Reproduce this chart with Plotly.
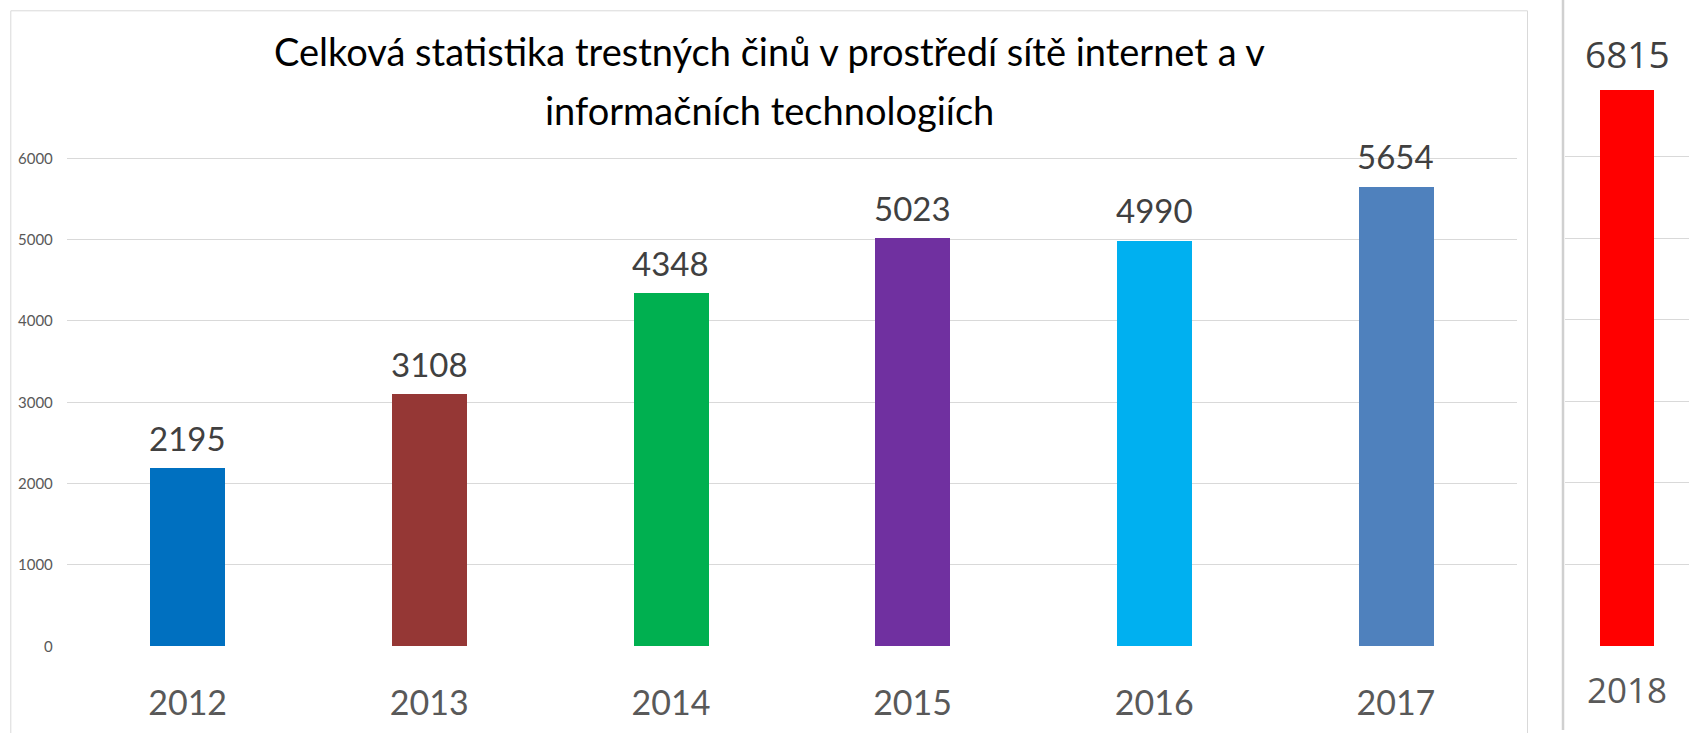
import plotly.graph_objects as go

# ---- data ----
years = ["2012", "2013", "2014", "2015", "2016", "2017"]
counts = [2195, 3108, 4348, 5023, 4990, 5654]
bar_colors = ["#0070C0", "#953735", "#00B050", "#7030A0", "#00B0F0", "#4F81BD"]

years_new = ["2018"]
counts_new = [6815]
colors_new = ["#FF0000"]

title_lines = ["Celková statistika trestných činů v prostředí sítě internet a v",
               "informačních technologiích"]
y_ticks = [0, 1000, 2000, 3000, 4000, 5000, 6000]
y_ticks_new = [0, 1000, 2000, 3000, 4000, 5000, 6000, 7000]

W, H = 1689, 733
MAINF = "Lato, Liberation Sans, sans-serif"
WIDE = "Open Sans, DejaVu Sans, sans-serif"
GRID = "#D9D9D9"


def fx(px):
    return px / W


def fy(py):
    return 1 - py / H


fig = go.Figure()

fig.add_trace(go.Bar(
    x=years, y=counts, marker=dict(color=bar_colors, line=dict(width=0)),
    width=0.31, xaxis="x", yaxis="y", showlegend=False, hoverinfo="x+y",
))
fig.add_trace(go.Bar(
    x=years_new, y=counts_new, marker=dict(color=colors_new, line=dict(width=0)),
    width=0.44, xaxis="x2", yaxis="y2", showlegend=False, hoverinfo="x+y",
))

annotations = []
# category axes: annotation positions use the category index
for i, v in enumerate(counts):
    annotations.append(dict(
        x=i, y=v, xref="x", yref="y", text=str(v), showarrow=False,
        yanchor="bottom", xanchor="center", yshift=8,
        font=dict(family=MAINF, size=33, color="#404040"),
    ))
for i, v in enumerate(counts_new):
    annotations.append(dict(
        x=i, y=v, xref="x2", yref="y2", text=str(v), showarrow=False,
        yanchor="bottom", xanchor="center", yshift=9,
        font=dict(family=WIDE, size=37, color="#404040"),
    ))
for line, cy in zip(title_lines, [51, 110]):
    annotations.append(dict(
        x=fx(769), y=fy(cy), xref="paper", yref="paper", showarrow=False,
        xanchor="center", yanchor="middle", text=line,
        font=dict(family=MAINF, size=38, color="#000000"),
    ))

shapes = [
    dict(type="rect", xref="paper", yref="paper", x0=fx(10.8), x1=fx(1527.5),
         y0=fy(745), y1=fy(10.8), line=dict(color=GRID, width=1), layer="below"),
    dict(type="line", xref="paper", yref="paper", x0=fx(1563), x1=fx(1563),
         y0=fy(730), y1=fy(0), line=dict(color="#D0D0D0", width=2.5), layer="below"),
]

fig.update_layout(
    width=W, height=H,
    margin=dict(l=0, r=0, t=0, b=0, pad=0, autoexpand=False),
    paper_bgcolor="white", plot_bgcolor="white",
    bargap=0,
    xaxis=dict(domain=[fx(66.8), fx(1516.7)], type="category", showgrid=False,
               showline=False, ticks="", ticklabelstandoff=34, automargin=False,
               tickfont=dict(family=MAINF, size=34, color="#595959")),
    yaxis=dict(domain=[fy(646.3), fy(646.3 - 6.3 * 81.33)], range=[0, 6300],
               tickvals=y_ticks, showgrid=True, gridcolor=GRID, gridwidth=1,
               zeroline=False, showline=False, ticks="", ticklabelstandoff=13,
               automargin=False,
               tickfont=dict(family=MAINF, size=15, color="#595959")),
    xaxis2=dict(domain=[fx(1565), 1], type="category", showgrid=False,
                showline=False, ticks="", ticklabelstandoff=21, anchor="y2",
                automargin=False,
                tickfont=dict(family=WIDE, size=35, color="#595959")),
    yaxis2=dict(domain=[fy(646), fy(75)], range=[0, 7005], anchor="x2",
                tickvals=y_ticks_new, showticklabels=False, showgrid=True,
                gridcolor=GRID, gridwidth=1, zeroline=False, showline=False,
                automargin=False),
    annotations=annotations,
    shapes=shapes,
)

fig.write_html("out.html", config={"displayModeBar": False},
               post_script="document.body.style.margin='0';document.body.style.overflow='hidden';")
